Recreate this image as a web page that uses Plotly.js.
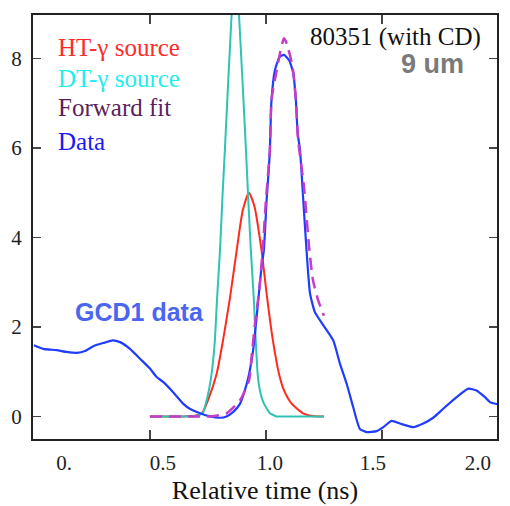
<!DOCTYPE html>
<html>
<head>
<meta charset="utf-8">
<script src="https://cdn.plot.ly/plotly-3.0.1.min.js"></script>
<style>html,body{margin:0;padding:0;background:#fff;}#chart{width:510px;height:506px;}</style>
</head>
<body>
<div id="chart"></div>
<script>
// ---- data ----
const htX = [0.5, 0.65, 0.69, 0.724, 0.75, 0.788, 0.815, 0.845, 0.874, 0.90, 0.927, 0.95, 0.981, 1.004, 1.03, 1.056, 1.078, 1.11, 1.16, 1.2, 1.25];
const htY = [0, 0, 0.01, 0.07, 0.36, 0.96, 1.70, 2.65, 3.71, 4.6, 5.0, 4.7, 3.71, 2.7, 1.70, 0.96, 0.58, 0.29, 0.07, 0.01, 0];

const dtX = [0.5, 0.65, 0.70, 0.728, 0.741, 0.754, 0.766, 0.780, 0.789, 0.802, 0.812, 0.823, 0.852, 0.868, 0.884, 0.914, 0.924, 0.935, 0.948, 0.956, 0.964, 0.974, 0.991, 1.017, 1.046, 1.1, 1.25];
const dtY = [0, 0, 0.01, 0.07, 0.29, 0.58, 0.96, 1.70, 2.6, 3.71, 4.83, 5.95, 8.97, 10.1, 8.97, 5.95, 4.83, 3.71, 2.6, 1.70, 0.96, 0.58, 0.29, 0.07, 0.0, 0, 0];

const fitX = [0.5, 0.7, 0.76, 0.83, 0.888, 0.927, 0.938, 0.953, 0.971, 0.986, 1.0, 1.017, 1.024, 1.045, 1.062, 1.078, 1.092, 1.115, 1.129, 1.139, 1.164, 1.186, 1.203, 1.225, 1.25];
const fitY = [0, 0, 0.0, 0.07, 0.36, 0.8, 1.32, 2.08, 2.82, 3.71, 4.83, 5.95, 7.07, 7.7, 8.15, 8.45, 8.3, 7.8, 7.07, 6.17, 5.13, 3.79, 3.04, 2.6, 2.25];

const dataX = [0.0, 0.04, 0.098, 0.141, 0.184, 0.22, 0.256, 0.299, 0.339, 0.371, 0.414, 0.457, 0.5, 0.529, 0.557, 0.6, 0.644, 0.672, 0.716, 0.759, 0.802, 0.83, 0.859, 0.888, 0.909, 0.928, 0.945, 0.957, 0.967, 0.981, 0.991, 1.003, 1.013, 1.017, 1.024, 1.039, 1.06, 1.078, 1.1, 1.118, 1.129, 1.137, 1.147, 1.161, 1.175, 1.19, 1.211, 1.247, 1.29, 1.319, 1.348, 1.376, 1.405, 1.434, 1.477, 1.506, 1.542, 1.578, 1.635, 1.678, 1.721, 1.764, 1.822, 1.872, 1.908, 1.944, 1.966, 2.0];
const dataY = [1.59, 1.51, 1.48, 1.44, 1.42, 1.46, 1.57, 1.64, 1.70, 1.66, 1.51, 1.29, 1.07, 0.88, 0.77, 0.54, 0.28, 0.17, 0.07, 0.0, -0.03, 0.0, 0.1, 0.28, 0.58, 0.96, 1.48, 2.07, 2.6, 3.34, 3.71, 4.83, 5.58, 5.95, 7.07, 7.74, 8.04, 8.08, 7.96, 7.67, 7.07, 6.32, 5.95, 4.83, 3.71, 2.75, 2.33, 2.04, 1.7, 1.18, 0.73, 0.21, -0.28, -0.35, -0.33, -0.24, -0.1, -0.16, -0.24, -0.16, -0.03, 0.17, 0.43, 0.62, 0.58, 0.43, 0.32, 0.27];

const xTickVals = [0.5, 1.0, 1.5, 2.0];
const xTickText = ['0.', '0.5', '1.0', '1.5', '2.0'];
const yTickVals = [0, 2, 4, 6, 8];
const seriesNames = ['HT-γ source', 'DT-γ source', 'Forward fit', 'Data'];

// ---- chart ----
const serif = 'Liberation Serif';
const sans = 'Liberation Sans';

const traces = [
  {x: htX, y: htY, mode: 'lines', name: seriesNames[0], line: {color: '#ff2a1e', width: 2, shape: 'spline', smoothing: 0.6}},
  {x: dtX, y: dtY, mode: 'lines', name: seriesNames[1], line: {color: '#2fc3b4', width: 2, shape: 'spline', smoothing: 0.4}},
  {x: dataX, y: dataY, mode: 'lines', name: seriesNames[3], line: {color: '#1f3cff', width: 2.2, shape: 'spline', smoothing: 0.5}},
  {x: fitX, y: fitY, mode: 'lines', name: seriesNames[2], line: {color: '#c43cc8', width: 2.5, dash: '12px,7px', shape: 'spline', smoothing: 0.6}},
  {x: [], y: [], xaxis: 'x2', mode: 'lines', showlegend: false, hoverinfo: 'skip'}
];

const legendColors = ['#ff2a2a', '#22eeee', '#5c1f5c', '#1a1aee'];
const legendY = [0.9233, 0.8514, 0.7807, 0.7028];
const annotations = seriesNames.map((n, i) => ({
  text: n, xref: 'paper', yref: 'paper', x: 0.050, y: legendY[i],
  xanchor: 'left', yanchor: 'middle', showarrow: false,
  font: {family: serif, size: 25, color: legendColors[i]}
}));
annotations.push({text: '80351 (with CD)', xref: 'paper', yref: 'paper', x: 0.969, y: 0.9480,
  xanchor: 'right', yanchor: 'middle', showarrow: false, font: {family: serif, size: 25, color: '#111'}});
annotations.push({text: '<b>9 um</b>', xref: 'paper', yref: 'paper', x: 0.934, y: 0.8833,
  xanchor: 'right', yanchor: 'middle', showarrow: false, font: {family: sans, size: 27, color: '#7a7a7a'}});
annotations.push({text: '<b>GCD1 data</b>', xref: 'paper', yref: 'paper', x: 0.086, y: 0.3002,
  xanchor: 'left', yanchor: 'middle', showarrow: false, font: {family: sans, size: 25, color: '#4a66f0'}});

const layout = {
  width: 510, height: 506,
  margin: {l: 33, r: 13, t: 15, b: 67},
  paper_bgcolor: '#fff', plot_bgcolor: '#fff',
  showlegend: false,
  xaxis: {
    range: [-0.004, 1.996], tickvals: xTickVals, showticklabels: false,
    ticks: 'inside', ticklen: 9, tickwidth: 1.5, tickcolor: '#444',
    showline: true, linewidth: 2, linecolor: '#222', mirror: 'ticks',
    showgrid: false, zeroline: false,
    title: {text: 'Relative time (ns)', font: {family: serif, size: 26, color: '#111'}, standoff: 41}
  },
  xaxis2: {
    overlaying: 'x', matches: 'x', side: 'bottom', anchor: 'y',
    tickvals: [0.13, 0.556, 1.017, 1.461, 1.914], ticktext: xTickText,
    ticks: '', showline: false, showgrid: false, zeroline: false,
    tickfont: {family: serif, size: 21, color: '#222'}, ticklabelstandoff: 9
  },
  yaxis: {
    range: [-0.505, 8.97], tickvals: yTickVals,
    ticks: 'inside', ticklen: 8, tickwidth: 1.5, tickcolor: '#444',
    showline: true, linewidth: 2, linecolor: '#222', mirror: 'ticks',
    showgrid: false, zeroline: false,
    tickfont: {family: serif, size: 21, color: '#222'}, ticklabelstandoff: 5
  },
  annotations: annotations
};

Plotly.newPlot('chart', traces, layout, {staticPlot: true, displayModeBar: false});
</script>
</body>
</html>
